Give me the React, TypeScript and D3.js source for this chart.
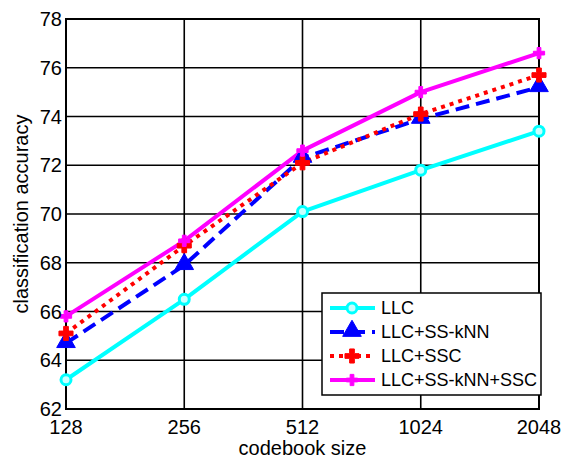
import React from "react";
import * as d3 from "d3";

const categories = ["128", "256", "512", "1024", "2048"];
const llc = [63.2, 66.5, 70.1, 71.8, 73.4];
const llcSSkNN = [64.7, 67.9, 72.3, 73.9, 75.2];
const llcSSC = [65.1, 68.7, 72.1, 74.1, 75.7];
const llcAll = [65.8, 68.9, 72.6, 75.0, 76.6];
const yTicks = [62, 64, 66, 68, 70, 72, 74, 76, 78];

const seriesNames = ["LLC", "LLC+SS-kNN", "LLC+SSC", "LLC+SS-kNN+SSC"];
const seriesValues = [llc, llcSSkNN, llcSSC, llcAll];
const colors = ["#00ffff", "#0000ff", "#ff0000", "#ff00ff"];
const dashes = ["none", "14,7", "4,5", "none"];

const W = 581, H = 461;
const left = 66, right = 539, top = 19, bottom = 409;

export default function App() {
  const x = d3.scalePoint<string>().domain(categories).range([left, right]);
  const y = d3.scaleLinear().domain([62, 78]).range([bottom, top]);
  const line = d3.line<number>().x((_, i) => x(categories[i])!).y((v) => y(v));

  const marker = (k: number, cx: number, cy: number, key: string) => {
    const c = colors[k];
    if (k === 0) return <circle key={key} cx={cx} cy={cy} r={5} fill="#c8ffff" stroke={c} strokeWidth={3} />;
    if (k === 1) {
      const p = d3.symbol().type(d3.symbolTriangle).size(150)();
      return <path key={key} d={p!} transform={`translate(${cx},${cy - 1})`} fill={c} stroke={c} strokeWidth={1} />;
    }
    if (k === 2) {
      const p = d3.symbol().type(d3.symbolCross).size(110)();
      return <path key={key} d={p!} transform={`translate(${cx},${cy})`} fill={c} stroke={c} strokeWidth={1} />;
    }
    const p = d3.symbol().type(d3.symbolCross).size(70)();
    return <path key={key} d={p!} transform={`translate(${cx},${cy})`} fill={c} stroke={c} strokeWidth={1} />;
  };

  const legX = 322, legY = 293, legW = 219, legH = 102;
  const font = "Liberation Sans, Arial, sans-serif";

  return (
    <svg width={W} height={H} style={{ position: "absolute", left: 0, top: 0, background: "#fff" }} fontFamily={font}>
      <rect x={0} y={0} width={W} height={H} fill="#fff" />
      {/* grid */}
      {yTicks.map((t) => (
        <line key={"gy" + t} x1={left} x2={right} y1={y(t)} y2={y(t)} stroke="#000" strokeWidth={1.6} />
      ))}
      {categories.map((c) => (
        <line key={"gx" + c} x1={x(c)} x2={x(c)} y1={top} y2={bottom} stroke="#000" strokeWidth={1.6} />
      ))}
      <rect x={left} y={top} width={right - left} height={bottom - top} fill="none" stroke="#000" strokeWidth={2} />
      {/* series */}
      {seriesValues.map((vals, k) => (
        <path key={"s" + k} d={line(vals)!} fill="none" stroke={colors[k]} strokeWidth={4}
          strokeDasharray={dashes[k]} strokeLinejoin="round" />
      ))}
      {seriesValues.map((vals, k) => vals.map((v, i) => marker(k, x(categories[i])!, y(v), `m${k}-${i}`)))}
      {/* y tick labels */}
      {yTicks.map((t) => (
        <text key={"ty" + t} x={left - 4} y={y(t) + 7} textAnchor="end" fontSize={20}>{t}</text>
      ))}
      {categories.map((c) => (
        <text key={"tx" + c} x={x(c)} y={bottom + 25} textAnchor="middle" fontSize={20}>{c}</text>
      ))}
      <text x={(left + right) / 2} y={455} textAnchor="middle" fontSize={20}>codebook size</text>
      <text transform={`translate(28,${(top + bottom) / 2}) rotate(-90)`} textAnchor="middle" fontSize={20}>classification accuracy</text>
      {/* legend */}
      <rect x={legX} y={legY} width={legW} height={legH} fill="#fff" stroke="#000" strokeWidth={1.5} />
      {seriesNames.map((n, k) => {
        const ly = legY + 15 + k * 24;
        return (
          <g key={"l" + k}>
            <line x1={legX + 8} x2={legX + 53} y1={ly} y2={ly} stroke={colors[k]} strokeWidth={4} strokeDasharray={dashes[k]} />
            {marker(k, legX + 30, ly, "lm" + k)}
            <text x={legX + 59} y={ly + 6} fontSize={18}>{n}</text>
          </g>
        );
      })}
    </svg>
  );
}
